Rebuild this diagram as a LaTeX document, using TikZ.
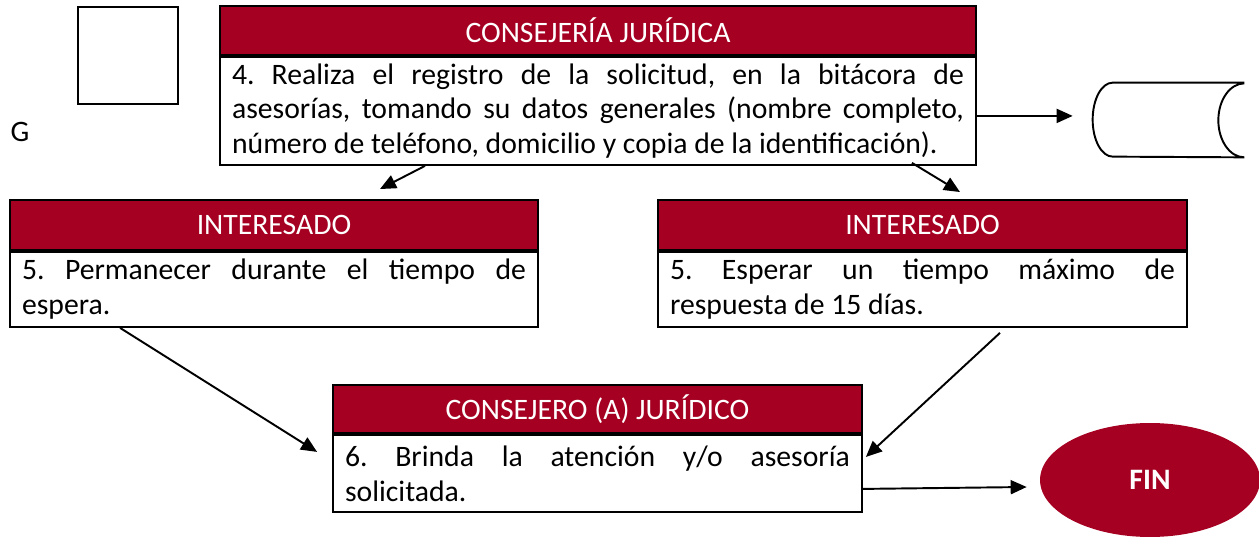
\documentclass[tikz,border=0pt]{standalone}
\usepackage{fontspec}
\setmainfont{Carlito}
\usepackage{xcolor}
\usepackage{tikz}
\usetikzlibrary{positioning,shapes.geometric,arrows.meta}
\definecolor{guinda}{HTML}{A50021}
\tikzset{
    every node/.style={font=\fontsize{16.9}{19.8}\selectfont},
    head/.style={draw, line width=1.1pt, fill=guinda, text=white, inner sep=0pt},
    body/.style={draw, line width=1.1pt, fill=white, align=justify, inner xsep=0.24cm, inner ysep=0pt},
    arr/.style={line width=1.1pt, -{Triangle[length=0.32cm,width=0.28cm]}}
}
\hyphenpenalty=10000
\frenchspacing

\begin{document}
\begin{tikzpicture}[x=0.02cm,y=0.02cm]
                \useasboundingbox (0,0) rectangle (1259,538);
                
                % Loose marks on the left
                \node[draw, line width=1.1pt, minimum width=2cm, minimum height=1.94cm] (blank) at (128,482.5) {};
                \node (g) at (20,406) {G};
                
                % Step 4
                \node[head, minimum width=15.12cm, minimum height=0.98cm] (cjh) at (598,507.5) {CONSEJERÍA JURÍDICA};
                \node[body, text width=14.64cm, minimum height=2.16cm, below=0pt of cjh] (cjb) {4. Realiza el registro de la solicitud, en la bitácora de\linebreak asesorías, tomando su datos generales (nombre completo,\linebreak número de teléfono, domicilio y copia de la identificación).};
                
                % Record store
                \node[minimum width=3.02cm, minimum height=1.48cm, inner sep=0pt] (store) at (1168.5,418) {};
                \draw[line width=1.1pt] (store.north east) -- ([xshift=0.4cm]store.north west)
                    arc[start angle=90, end angle=270, x radius=0.4cm, y radius=0.74cm] -- (store.south east)
                    arc[start angle=270, end angle=90, x radius=0.52cm, y radius=0.74cm];
                
                % Step 5, both ways
                \node[head, minimum width=10.56cm, minimum height=1cm] (intlh) at (274,313) {INTERESADO};
                \node[body, text width=10.08cm, minimum height=1.5cm, below=0pt of intlh] (intlb) {5. Permanecer durante el tiempo de\linebreak espera.};
                \node[head, minimum width=10.58cm, minimum height=1cm] (intrh) at (922.5,313) {INTERESADO};
                \node[body, text width=10.1cm, minimum height=1.5cm, below=0pt of intrh] (intrb) {5. Esperar un tiempo máximo de\linebreak respuesta de 15 días.};
                
                % Step 6
                \node[head, minimum width=10.58cm, minimum height=0.96cm] (cjoh) at (597.5,129) {CONSEJERO (A) JURÍDICO};
                \node[body, text width=10.1cm, minimum height=1.54cm, below=0pt of cjoh] (cjob) {6. Brinda la atención y/o asesoría\linebreak solicitada.};
                
                % End
                \node[ellipse, fill=guinda, text=white, minimum width=4.4cm, minimum height=2.28cm, inner sep=0pt] (fin) at (1150,58) {\textbf{FIN}};
                
                % Arrows
                \draw[arr] ([yshift=-0.1cm]cjb.east) -- ([xshift=-0.4cm,yshift=-0.1cm]store.west |- cjb.east);
                \draw[arr] ([xshift=-3.46cm]cjb.south) -- ([xshift=2.12cm,yshift=0.2cm]intlh.north);
                \draw[arr] ([xshift=6.28cm,yshift=0.06cm]cjb.south) -- ([xshift=0.75cm,yshift=0.14cm]intrh.north);
                \draw[arr] ([xshift=-3.08cm]intlb.south) -- ([xshift=-0.3cm,yshift=0.43cm]cjob.west);
                \draw[arr] ([xshift=1.55cm,yshift=-0.1cm]intrb.south) -- ([xshift=0.06cm,yshift=0.33cm]cjob.east);
                \draw[arr] ([yshift=-0.31cm]cjob.east) -- ([xshift=-0.26cm,yshift=-0.14cm]fin.west);
            \end{tikzpicture}
\end{document}
